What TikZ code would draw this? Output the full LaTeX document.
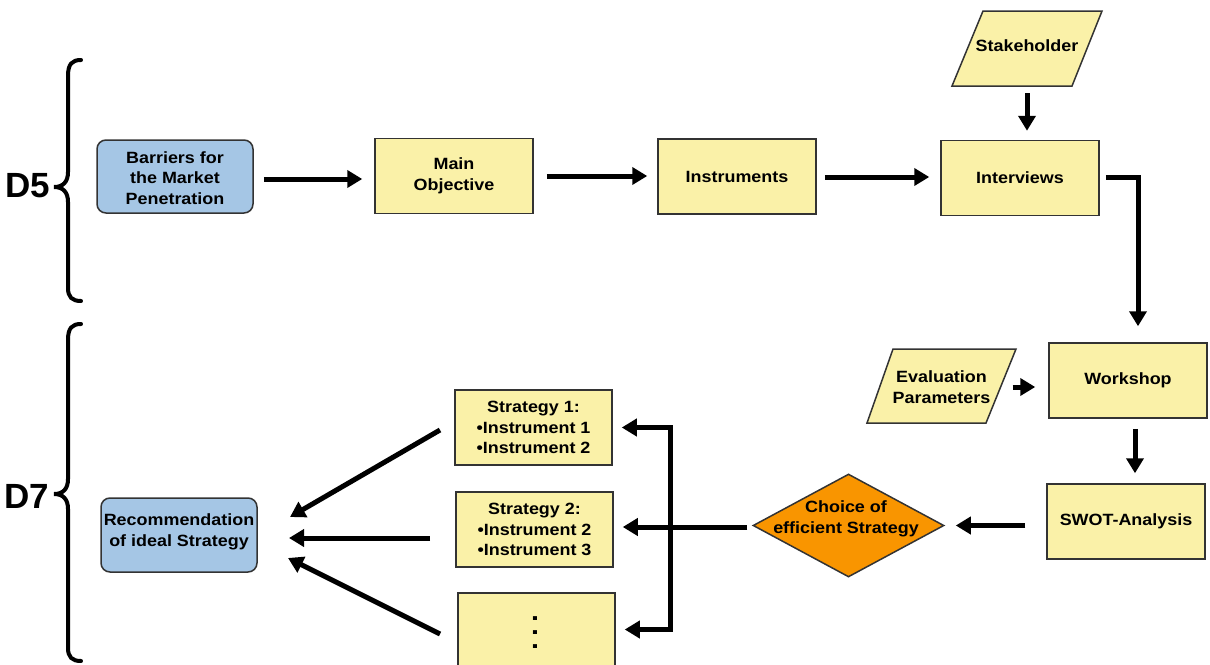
\documentclass[tikz,border=0pt]{standalone}
\usepackage{fontspec}
\setmainfont{Liberation Sans}[FakeStretch=1.1]
\newfontfamily\dfont{Liberation Sans}
\usetikzlibrary{arrows.meta,shapes.geometric,calc}
\definecolor{boxyellow}{HTML}{FAF1A8}
\definecolor{boxblue}{HTML}{A5C6E5}
\definecolor{boxorange}{HTML}{F99500}
\definecolor{edge}{HTML}{333333}
\begin{document}
\begin{tikzpicture}[x=1pt,y=-1pt,
  txt/.style={inner sep=0pt,align=center,font=\bfseries\fontsize{16.3}{20.5}\selectfont},
  ybox/.style={txt,draw=edge,line width=1.5pt,fill=boxyellow,minimum width=158pt,minimum height=75pt},
  bbox/.style={txt,draw=edge,line width=1.5pt,fill=boxblue,rounded corners=9pt,minimum width=156pt,minimum height=73pt},
  pgram/.style={draw=edge,line width=1.5pt,fill=boxyellow},
  arr/.style={line width=5pt,-{Triangle[length=15pt,width=17pt]}},
  brace/.style={line width=4pt,line cap=round},
  dlabel/.style={inner sep=0pt,font=\dfont\bfseries\fontsize{35}{35}\selectfont}]
\useasboundingbox (0,0) rectangle (1210,664);

% braces
\draw[brace] (81,60) .. controls (72,60) and (68,64) .. (68,76) -- (68,172) .. controls (68,182) and (63,187) .. (54,187) .. controls (63,187) and (68,192) .. (68,202) -- (68,288) .. controls (68,297) and (72,301) .. (81,301);
\draw[brace] (81,324) .. controls (72,324) and (68,328) .. (68,340) -- (68,479) .. controls (68,489) and (63,494) .. (54,494) .. controls (63,494) and (68,499) .. (68,509) -- (68,648) .. controls (68,657) and (72,661) .. (81,661);
\node[dlabel] (d5) at (28,186) {D5};
\node[dlabel] (d7) at (27,496) {D7};

% top row
\node[bbox] (bar) at (175,176.5) {};
\node[txt] (bart) at (175,178) {Barriers for\\the Market\\Penetration};
\node[ybox] (mo) at (454,176) {Main\\Objective};
\node[ybox] (ins) at (737,176.5) {Instruments};
\node[ybox] (ivw) at (1020,178) {Interviews};

% stakeholder parallelogram
\draw[pgram] (983,11) -- (1102,11) -- (1072,86) -- (952,86) -- cycle;
\node[txt,minimum height=75pt] (stk) at (1027,48.5) {};
\node[txt] (stkt) at (1027,46) {Stakeholder};

% right column
\node[ybox] (wks) at (1128,380.5) {Workshop};
\node[ybox] (swot) at (1126,521.5) {SWOT-Analysis};
\draw[pgram] (893,349) -- (1016,349) -- (986,423) -- (867,423) -- cycle;
\node[txt,minimum width=140pt] (ev) at (941.5,387) {Evaluation\\Parameters};

% choice diamond
\node[diamond,draw=edge,line width=1.5pt,fill=boxorange,minimum width=191pt,minimum height=103pt,inner sep=0pt] (ch) at (848.5,525.5) {};
\node[txt] (cht) at (846,519) {Choice of\\efficient Strategy};

% strategies
\node[ybox,minimum width=157pt] (s1) at (533.5,427.5) {Strategy 1:\\•Instrument 1\\•Instrument 2};
\node[ybox,minimum width=157pt] (s2) at (534.5,529.5) {Strategy 2:\\•Instrument 2\\•Instrument 3};
\node[ybox,minimum width=157pt,minimum height=73pt] (s3) at (536.5,629.5) {};
\node[txt,font=\bfseries\fontsize{26}{14}\selectfont] (dots) at (535,633) {.\\.\\.};

% recommendation
\node[bbox,minimum height=74pt] (rec) at (179,535) {};
\node[txt] (rect) at (179,532) {Recommendation\\of ideal Strategy};

% connectors top row
\draw[arr,shorten <=10pt,shorten >=12pt] (bar.east |- 0,179) -- (mo.west |- 0,179);
\draw[arr,shorten <=13pt,shorten >=10pt] (mo.east) -- (ins.west |- mo.east);
\draw[arr,shorten <=8pt,shorten >=11pt] (ins.east |- 0,177) -- (ivw.west |- 0,177);
\draw[arr,shorten <=7pt,shorten >=9pt] (stk.south) -- (ivw.north -| stk.south);
\draw[arr,shorten <=6pt,shorten >=16pt] (ivw.east |- 0,177) -| ([xshift=10pt]wks.north);
\draw[arr,shorten <=1pt,shorten >=13pt] (ev.east) -- (wks.west |- ev.east);
\draw[arr,shorten <=10pt,shorten >=10pt] ([xshift=7pt]wks.south) -- ([xshift=7pt]wks.south |- swot.north);
\draw[arr,shorten <=21pt,shorten >=11pt] (swot.west |- ch.east) -- (ch.east);

% choice to strategies
\coordinate (jn) at (670,527);
\draw[arr,shorten <=5pt,shorten >=9pt] (ch.west |- jn) -- (s2.east |- jn);
\draw[arr,shorten >=9pt] (670,529.5) |- (s1.east);
\draw[arr,shorten >=9pt] (670,525) |- (s3.east);

% strategies to recommendation
\coordinate (a1) at (440,430);
\coordinate (a2) at (430,538);
\coordinate (a3) at (440,634);
\coordinate (t1) at (290,517);
\coordinate (t2) at (289,538);
\coordinate (t3) at (288,558);
\draw[arr] (a1) -- (t1);
\draw[arr] (a2) -- (t2);
\draw[arr] (a3) -- (t3);
\end{tikzpicture}
\end{document}
